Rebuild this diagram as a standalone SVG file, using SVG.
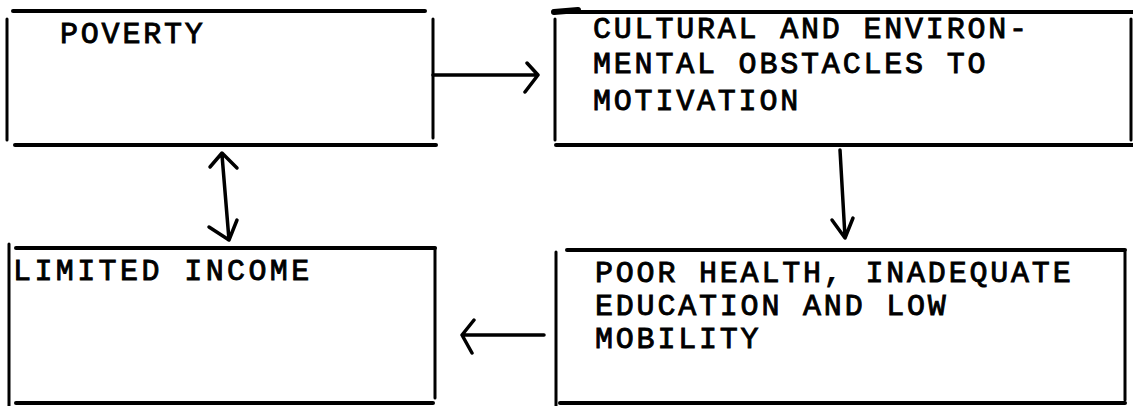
<svg xmlns="http://www.w3.org/2000/svg" width="1133" height="406" viewBox="0 0 1133 406">
<style>
.edge{stroke:#000;stroke-width:3;stroke-linecap:round;fill:none}
.edge2{stroke:#000;stroke-width:4;stroke-linecap:round;fill:none}
.conn{stroke:#000;stroke-width:3.5;stroke-linecap:round;stroke-linejoin:round;fill:none}
.lbl{font-family:"Liberation Mono","Courier New",monospace;font-size:30px;letter-spacing:2.8px;fill:#000;stroke:#000;stroke-width:0.9px}
</style>
<rect width="1133" height="406" fill="#fff"/>
<g id="node-poverty">
<line class="edge2" x1="13" y1="11" x2="425" y2="11"/>
<line class="edge" x1="7" y1="19" x2="7" y2="140"/>
<line class="edge" x1="433" y1="19" x2="433" y2="138"/>
<line class="edge2" x1="15" y1="145" x2="436" y2="145"/>
<text class="lbl" x="60" y="43">POVERTY</text>
</g>
<g id="node-obstacles">
<line class="edge2" x1="554" y1="12" x2="1133" y2="12"/>
<line stroke="#000" stroke-width="6" stroke-linecap="round" x1="554" y1="12" x2="578" y2="10"/>
<line class="edge" x1="555" y1="19" x2="555" y2="140"/>
<line class="edge" x1="1131" y1="19" x2="1131" y2="140"/>
<line class="edge2" x1="556" y1="145" x2="1133" y2="145"/>
<text class="lbl" x="593" y="38">CULTURAL AND ENVIRON-</text>
<text class="lbl" x="593" y="73">MENTAL OBSTACLES TO</text>
<text class="lbl" x="593" y="110">MOTIVATION</text>
</g>
<g id="node-income">
<line class="edge2" x1="16" y1="248" x2="435" y2="248"/>
<line class="edge" x1="9" y1="244" x2="9" y2="406"/>
<line class="edge" x1="435" y1="248" x2="435" y2="398"/>
<line class="edge2" x1="16" y1="403" x2="433" y2="403"/>
<text class="lbl" x="13" y="280" style="letter-spacing:3.4px">LIMITED INCOME</text>
</g>
<g id="node-health">
<line class="edge2" x1="567" y1="250" x2="1125" y2="250"/>
<line class="edge" x1="556" y1="252" x2="556" y2="406"/>
<line class="edge" x1="1125" y1="252" x2="1125" y2="400"/>
<line class="edge2" x1="560" y1="403" x2="1125" y2="403"/>
<text class="lbl" x="595" y="282">POOR HEALTH, INADEQUATE</text>
<text class="lbl" x="595" y="315">EDUCATION AND LOW</text>
<text class="lbl" x="595" y="348">MOBILITY</text>
</g>
<g id="connectors">
<path class="conn" d="M433 75 L538 75 M527 63 L538 75 L525 92"/>
<path class="conn" d="M840 150 L845 237 M832 220 L845 238 L853 218"/>
<path class="conn" d="M544 335 L462 335 M474 320 L462 335 L472 353"/>
<path class="conn" d="M222 155 L229 240 M210 167 L222 153 L237 168 M209 227 L229 240 L237 220"/>
</g>
</svg>
